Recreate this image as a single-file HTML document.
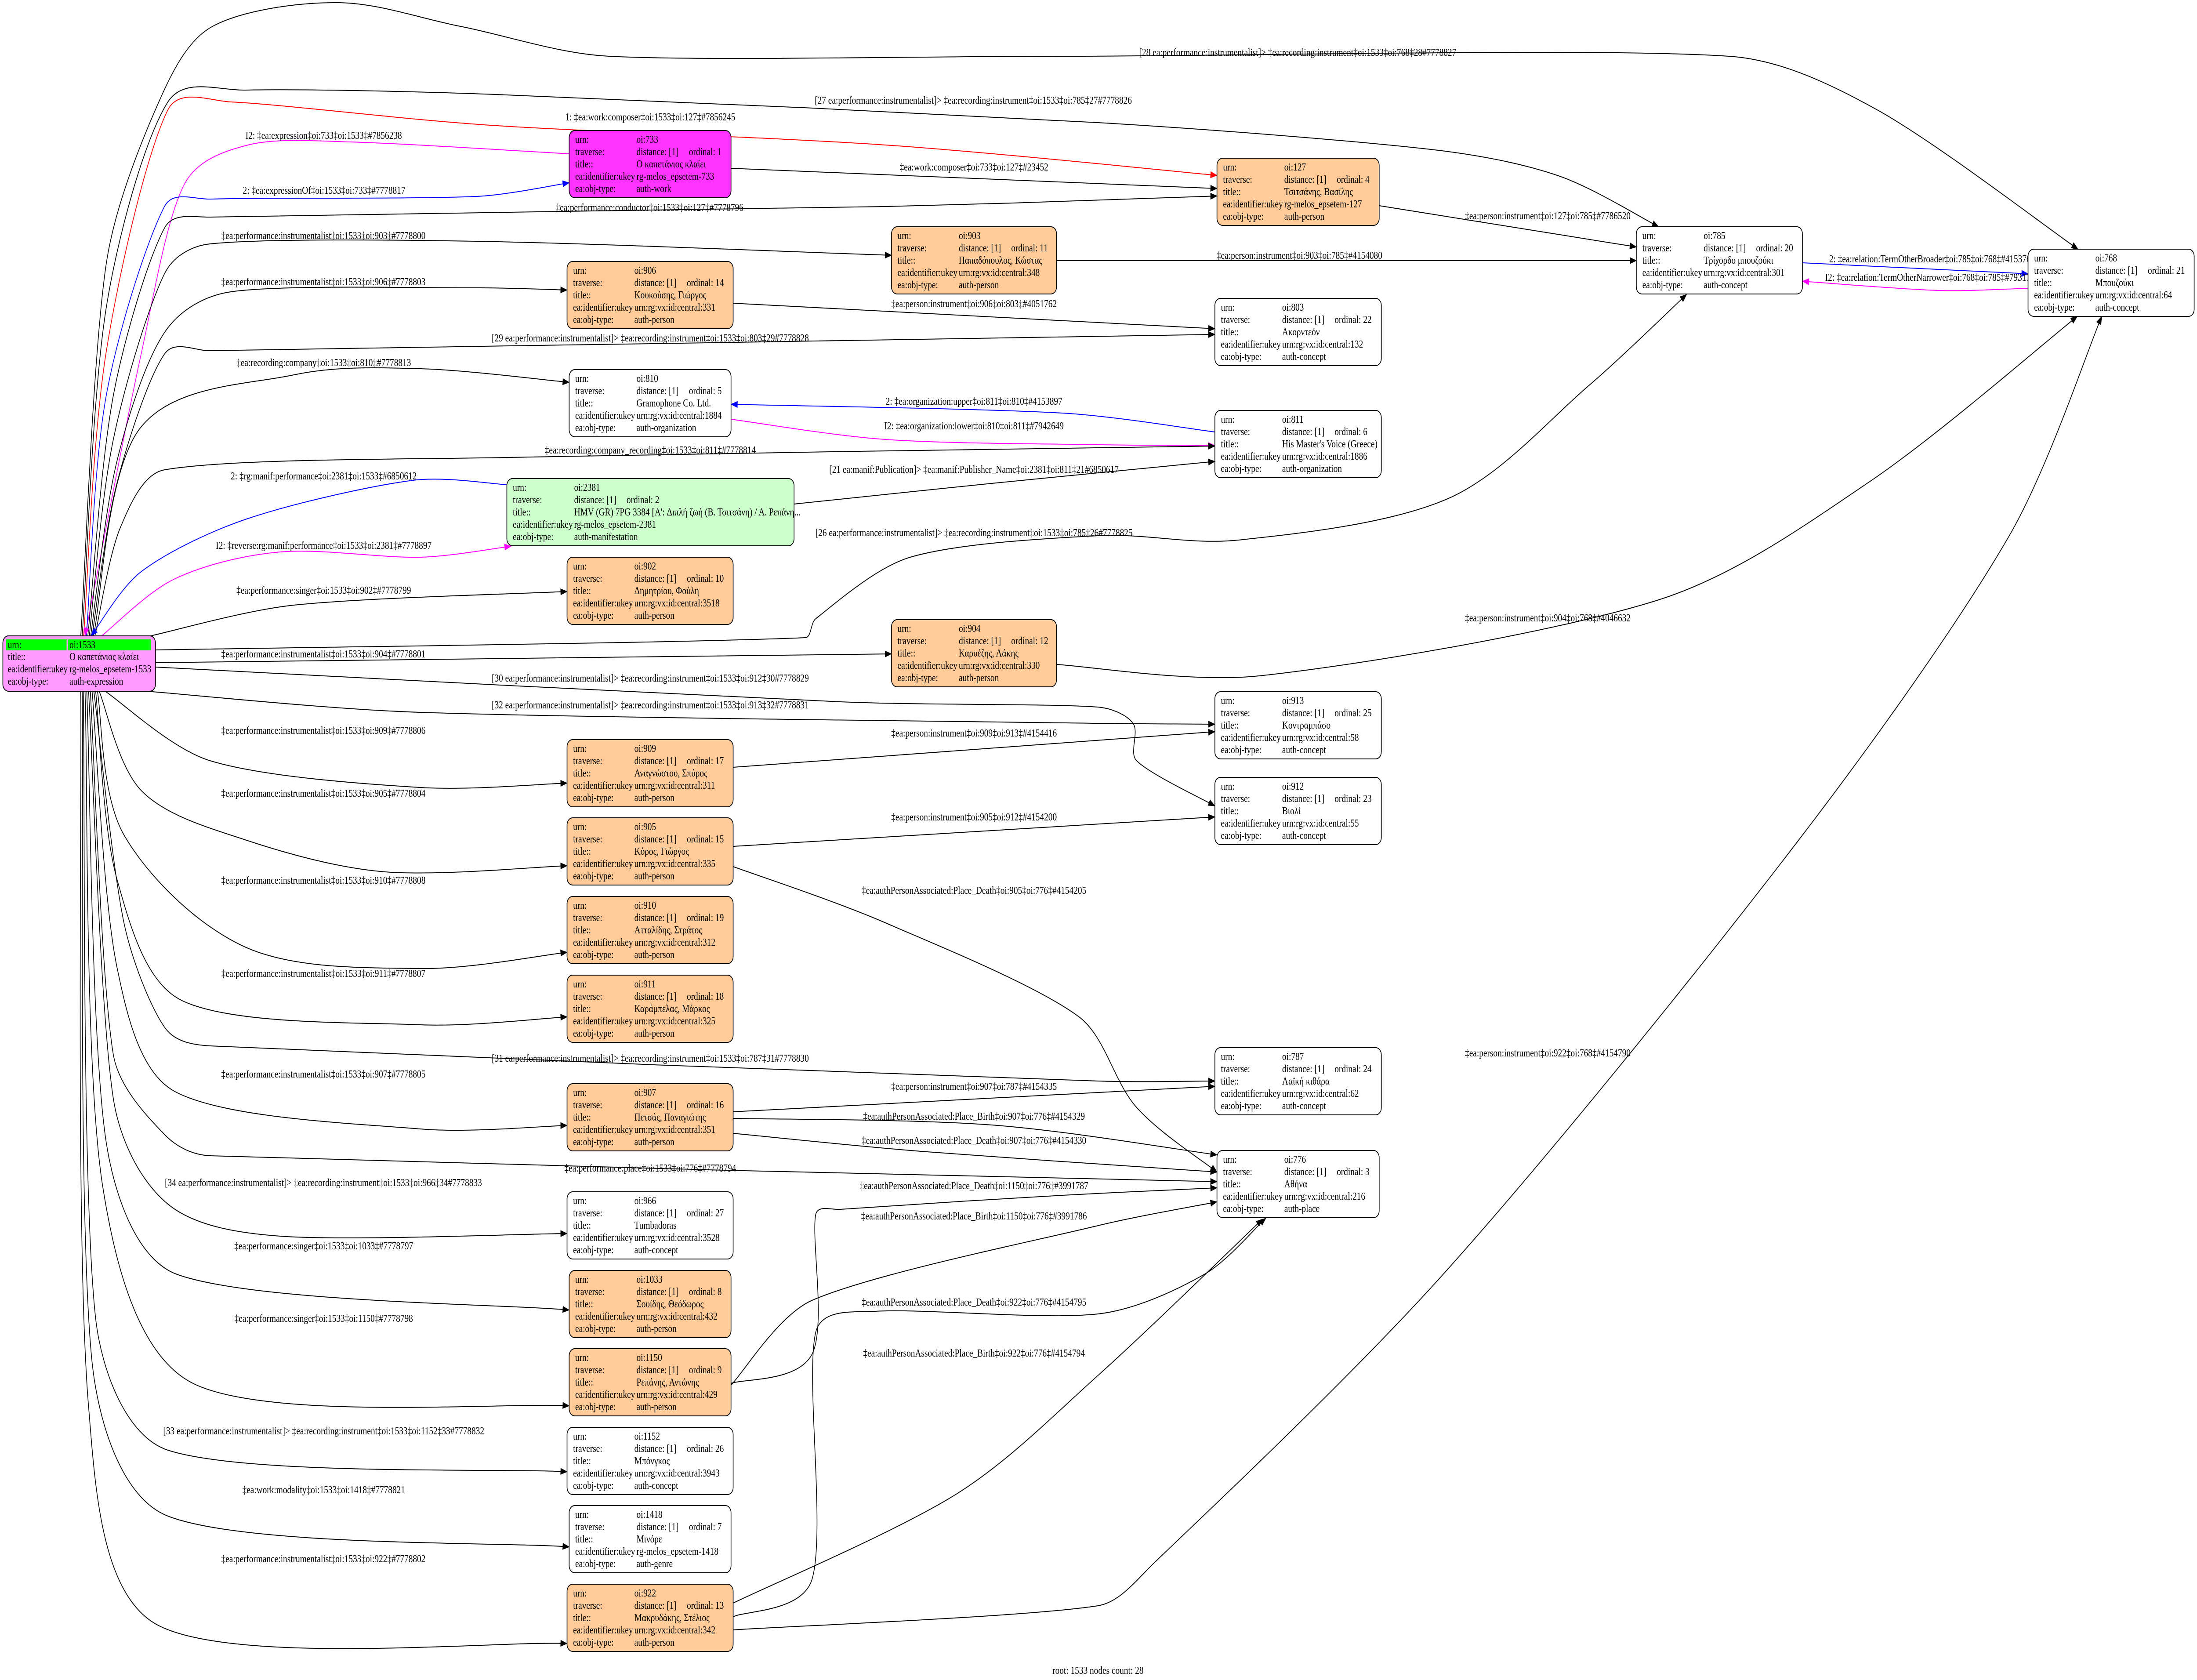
<!DOCTYPE html>
<html><head><meta charset="utf-8">
<style>
html,body{margin:0;padding:0;background:#fff;overflow:hidden;width:100%;height:100%;}
svg{display:block;width:100vw;height:100vh;}
text{font-family:"Liberation Serif","DejaVu Serif",serif;font-size:24px;fill:#000;}
.lb{text-anchor:middle;}
</style></head>
<body>
<svg id="s" xmlns="http://www.w3.org/2000/svg" viewBox="0 0 6203 3823" preserveAspectRatio="none">
<rect width="6203" height="3823" fill="#fff"/>
<g id="edges" fill="none" stroke-width="2"></g>
<g id="arrows"></g>
<g id="nodes"></g>
<g id="labels">
<text class="lb" x="3664" y="127">[28 ea:performance:instrumentalist]&gt; ‡ea:recording:instrument‡oi:1533‡oi:768‡28#7778827</text>
<text class="lb" x="2748" y="236">[27 ea:performance:instrumentalist]&gt; ‡ea:recording:instrument‡oi:1533‡oi:785‡27#7778826</text>
<text class="lb" x="1836" y="274">1: ‡ea:work:composer‡oi:1533‡oi:127‡#7856245</text>
<text class="lb" x="914" y="316">I2: ‡ea:expression‡oi:733‡oi:1533‡#7856238</text>
<text class="lb" x="915" y="441">2: ‡ea:expressionOf‡oi:1533‡oi:733‡#7778817</text>
<text class="lb" x="2750" y="388">‡ea:work:composer‡oi:733‡oi:127‡#23452</text>
<text class="lb" x="1834" y="480">‡ea:performance:conductor‡oi:1533‡oi:127‡#7778796</text>
<text class="lb" x="913" y="544">‡ea:performance:instrumentalist‡oi:1533‡oi:903‡#7778800</text>
<text class="lb" x="3669" y="589">‡ea:person:instrument‡oi:903‡oi:785‡#4154080</text>
<text class="lb" x="913" y="649">‡ea:performance:instrumentalist‡oi:1533‡oi:906‡#7778803</text>
<text class="lb" x="2750" y="699">‡ea:person:instrument‡oi:906‡oi:803‡#4051762</text>
<text class="lb" x="1836" y="777">[29 ea:performance:instrumentalist]&gt; ‡ea:recording:instrument‡oi:1533‡oi:803‡29#7778828</text>
<text class="lb" x="914" y="833">‡ea:recording:company‡oi:1533‡oi:810‡#7778813</text>
<text class="lb" x="2750" y="921">2: ‡ea:organization:upper‡oi:811‡oi:810‡#4153897</text>
<text class="lb" x="2750" y="977">I2: ‡ea:organization:lower‡oi:810‡oi:811‡#7942649</text>
<text class="lb" x="1836" y="1032">‡ea:recording:company_recording‡oi:1533‡oi:811‡#7778814</text>
<text class="lb" x="2750" y="1076">[21 ea:manif:Publication]&gt; ‡ea:manif:Publisher_Name‡oi:2381‡oi:811‡21#6850617</text>
<text class="lb" x="914" y="1091">2: ‡rg:manif:performance‡oi:2381‡oi:1533‡#6850612</text>
<text class="lb" x="914" y="1249">I2: ‡reverse:rg:manif:performance‡oi:1533‡oi:2381‡#7778897</text>
<text class="lb" x="914" y="1351">‡ea:performance:singer‡oi:1533‡oi:902‡#7778799</text>
<text class="lb" x="2750" y="1220">[26 ea:performance:instrumentalist]&gt; ‡ea:recording:instrument‡oi:1533‡oi:785‡26#7778825</text>
<text class="lb" x="913" y="1496">‡ea:performance:instrumentalist‡oi:1533‡oi:904‡#7778801</text>
<text class="lb" x="4370" y="1414">‡ea:person:instrument‡oi:904‡oi:768‡#4046632</text>
<text class="lb" x="1836" y="1551">[30 ea:performance:instrumentalist]&gt; ‡ea:recording:instrument‡oi:1533‡oi:912‡30#7778829</text>
<text class="lb" x="1836" y="1612">[32 ea:performance:instrumentalist]&gt; ‡ea:recording:instrument‡oi:1533‡oi:913‡32#7778831</text>
<text class="lb" x="2750" y="1676">‡ea:person:instrument‡oi:909‡oi:913‡#4154416</text>
<text class="lb" x="913" y="1670">‡ea:performance:instrumentalist‡oi:1533‡oi:909‡#7778806</text>
<text class="lb" x="2750" y="1867">‡ea:person:instrument‡oi:905‡oi:912‡#4154200</text>
<text class="lb" x="913" y="1813">‡ea:performance:instrumentalist‡oi:1533‡oi:905‡#7778804</text>
<text class="lb" x="2750" y="2034">‡ea:authPersonAssociated:Place_Death‡oi:905‡oi:776‡#4154205</text>
<text class="lb" x="913" y="2011">‡ea:performance:instrumentalist‡oi:1533‡oi:910‡#7778808</text>
<text class="lb" x="913" y="2223">‡ea:performance:instrumentalist‡oi:1533‡oi:911‡#7778807</text>
<text class="lb" x="1836" y="2416">[31 ea:performance:instrumentalist]&gt; ‡ea:recording:instrument‡oi:1533‡oi:787‡31#7778830</text>
<text class="lb" x="913" y="2452">‡ea:performance:instrumentalist‡oi:1533‡oi:907‡#7778805</text>
<text class="lb" x="2750" y="2480">‡ea:person:instrument‡oi:907‡oi:787‡#4154335</text>
<text class="lb" x="2750" y="2548">‡ea:authPersonAssociated:Place_Birth‡oi:907‡oi:776‡#4154329</text>
<text class="lb" x="2750" y="2603">‡ea:authPersonAssociated:Place_Death‡oi:907‡oi:776‡#4154330</text>
<text class="lb" x="1836" y="2666">‡ea:performance:place‡oi:1533‡oi:776‡#7778794</text>
<text class="lb" x="913" y="2699">[34 ea:performance:instrumentalist]&gt; ‡ea:recording:instrument‡oi:1533‡oi:966‡34#7778833</text>
<text class="lb" x="2750" y="2706">‡ea:authPersonAssociated:Place_Death‡oi:1150‡oi:776‡#3991787</text>
<text class="lb" x="2750" y="2775">‡ea:authPersonAssociated:Place_Birth‡oi:1150‡oi:776‡#3991786</text>
<text class="lb" x="914" y="2843">‡ea:performance:singer‡oi:1533‡oi:1033‡#7778797</text>
<text class="lb" x="914" y="3008">‡ea:performance:singer‡oi:1533‡oi:1150‡#7778798</text>
<text class="lb" x="2750" y="2971">‡ea:authPersonAssociated:Place_Death‡oi:922‡oi:776‡#4154795</text>
<text class="lb" x="2750" y="3087">‡ea:authPersonAssociated:Place_Birth‡oi:922‡oi:776‡#4154794</text>
<text class="lb" x="914" y="3264">[33 ea:performance:instrumentalist]&gt; ‡ea:recording:instrument‡oi:1533‡oi:1152‡33#7778832</text>
<text class="lb" x="914" y="3398">‡ea:work:modality‡oi:1533‡oi:1418‡#7778821</text>
<text class="lb" x="913" y="3555">‡ea:performance:instrumentalist‡oi:1533‡oi:922‡#7778802</text>
<text class="lb" x="4370" y="2404">‡ea:person:instrument‡oi:922‡oi:768‡#4154790</text>
<text class="lb" x="5455" y="597">2: ‡ea:relation:TermOtherBroader‡oi:785‡oi:768‡#4153762</text>
<text class="lb" x="5455" y="639">I2: ‡ea:relation:TermOtherNarrower‡oi:768‡oi:785‡#7931780</text>
<text class="lb" x="4370" y="499">‡ea:person:instrument‡oi:127‡oi:785‡#7786520</text>
<text class="lb" x="3100" y="3809">root: 1533 nodes count: 28</text>
</g>

<g id="nd" stroke="#000" stroke-width="2">
<rect x="8" y="1447" width="431" height="126" rx="16" fill="#ff99ff"/>
<rect x="17" y="1455" width="171" height="25" fill="#00ff00" stroke="none"/>
<rect x="192" y="1455" width="234" height="25" fill="#00ff00" stroke="none"/>
</g>
<g>
<text x="22" y="1475">urn:</text><text x="196" y="1475">oi:1533</text>
<text x="22" y="1502">title::</text><text x="196" y="1502">Ο καπετάνιος κλαίει</text>
<text x="22" y="1530">ea:identifier:ukey</text><text x="196" y="1530">rg-melos_epsetem-1533</text>
<text x="22" y="1558">ea:obj-type:</text><text x="196" y="1558">auth-expression</text>
</g>
<g id="nodes5"></g>
</svg>
<script>
(function(){
var NS="http://www.w3.org/2000/svg";
var nodes=[
[1607,297,457,"#ff33ff","oi:733","1","Ο καπετάνιος κλαίει","rg-melos_epsetem-733","auth-work"],
[3436,360,458,"#ffcc99","oi:127","4","Τσιτσάνης, Βασίλης","rg-melos_epsetem-127","auth-person"],
[2517,516,466,"#ffcc99","oi:903","11","Παπαδόπουλος, Κώστας","urn:rg:vx:id:central:348","auth-person"],
[4620,516,469,"#ffffff","oi:785","20","Τρίχορδο μπουζούκι","urn:rg:vx:id:central:301","auth-concept"],
[5726,567,469,"#ffffff","oi:768","21","Μπουζούκι","urn:rg:vx:id:central:64","auth-concept"],
[1601,595,469,"#ffcc99","oi:906","14","Κουκούσης, Γιώργος","urn:rg:vx:id:central:331","auth-person"],
[3430,679,470,"#ffffff","oi:803","22","Ακορντεόν","urn:rg:vx:id:central:132","auth-concept"],
[1607,841,457,"#ffffff","oi:810","5","Gramophone Co. Ltd.","urn:rg:vx:id:central:1884","auth-organization"],
[3430,934,470,"#ffffff","oi:811","6","His Master's Voice (Greece)","urn:rg:vx:id:central:1886","auth-organization"],
[1431,1089,811,"#ccffcc","oi:2381","2","HMV (GR) 7PG 3384 [A': Διπλή ζωή (Β. Τσιτσάνη) / Α. Ρεπάνη...","rg-melos_epsetem-2381","auth-manifestation"],
[1601,1268,469,"#ffcc99","oi:902","10","Δημητρίου, Φούλη","urn:rg:vx:id:central:3518","auth-person"],
[2517,1410,466,"#ffcc99","oi:904","12","Καρυέζης, Λάκης","urn:rg:vx:id:central:330","auth-person"],
[3430,1574,470,"#ffffff","oi:913","25","Κοντραμπάσο","urn:rg:vx:id:central:58","auth-concept"],
[1601,1683,469,"#ffcc99","oi:909","17","Αναγνώστου, Σπύρος","urn:rg:vx:id:central:311","auth-person"],
[3430,1769,470,"#ffffff","oi:912","23","Βιολί","urn:rg:vx:id:central:55","auth-concept"],
[1601,1861,469,"#ffcc99","oi:905","15","Κόρος, Γιώργος","urn:rg:vx:id:central:335","auth-person"],
[1601,2040,469,"#ffcc99","oi:910","19","Ατταλίδης, Στράτος","urn:rg:vx:id:central:312","auth-person"],
[1601,2219,469,"#ffcc99","oi:911","18","Καράμπελας, Μάρκος","urn:rg:vx:id:central:325","auth-person"],
[3430,2384,470,"#ffffff","oi:787","24","Λαϊκή κιθάρα","urn:rg:vx:id:central:62","auth-concept"],
[1601,2466,469,"#ffcc99","oi:907","16","Πετσάς, Παναγιώτης","urn:rg:vx:id:central:351","auth-person"],
[3436,2618,458,"#ffffff","oi:776","3","Αθήνα","urn:rg:vx:id:central:216","auth-place"],
[1601,2712,469,"#ffffff","oi:966","27","Tumbadoras","urn:rg:vx:id:central:3528","auth-concept"],
[1607,2891,457,"#ffcc99","oi:1033","8","Σουίδης, Θεόδωρος","urn:rg:vx:id:central:432","auth-person"],
[1607,3069,457,"#ffcc99","oi:1150","9","Ρεπάνης, Αντώνης","urn:rg:vx:id:central:429","auth-person"],
[1601,3248,469,"#ffffff","oi:1152","26","Μπόνγκος","urn:rg:vx:id:central:3943","auth-concept"],
[1607,3426,457,"#ffffff","oi:1418","7","Μινόρε","rg-melos_epsetem-1418","auth-genre"],
[1601,3605,469,"#ffcc99","oi:922","13","Μακρυδάκης, Στέλιος","urn:rg:vx:id:central:342","auth-person"]
];
var g=document.getElementById("nodes5");
function el(n,a,t){var e=document.createElementNS(NS,n);for(var k in a)e.setAttribute(k,a[k]);if(t!==undefined)e.textContent=t;return e;}
nodes.forEach(function(n){
  var x=n[0],y=n[1],w=n[2];
  g.appendChild(el("rect",{x:x,y:y,width:w,height:153,rx:16,fill:n[3],stroke:"#000","stroke-width":2}));
  var lx=x+17,vx=x+190,b=y+28;
  var L=["urn:","traverse:","title::","ea:identifier:ukey","ea:obj-type:"];
  var V=[n[4],"distance: [1]",n[6],n[7],n[8]];
  for(var i=0;i<5;i++){
    g.appendChild(el("text",{x:lx,y:b+i*28},L[i]));
    g.appendChild(el("text",{x:vx,y:b+i*28},V[i]));
  }
  g.appendChild(el("text",{x:vx+148,y:b+28},"ordinal: "+n[5]));
});
var K="#000",R="#ff0000",B="#0000ff",M="#ff00ff";
var E=[
[K,[[228,1447],[300,600],[455,220],[600,60],[949,6],[1300,60],[1720,128],[3000,128],[4881,128],[5300,250],[5867,567]]],
[K,[[232,1447],[300,700],[474,232],[692,205],[1400,215],[3100,279],[4050,341],[4400,400],[4683,516]]],
[R,[[236,1447],[300,800],[474,250],[652,232],[1384,285],[2500,330],[3436,399]]],
[M,[[1607,350],[988,323],[700,330],[520,420],[400,800],[240,1447]]],
[B,[[244,1447],[300,900],[465,469],[593,453],[1344,447],[1607,416]]],
[K,[[2064,383],[3436,429]]],
[K,[[248,1447],[320,900],[465,518],[593,494],[2500,470],[3436,446]]],
[K,[[252,1447],[320,1000],[465,622],[593,555],[1344,549],[2517,581]]],
[K,[[2983,593],[4620,593]]],
[K,[[256,1447],[330,1050],[465,756],[652,664],[1344,655],[1601,660]]],
[K,[[2070,690],[3430,748]]],
[K,[[260,1447],[330,1100],[465,805],[593,798],[2000,780],[3430,761]]],
[K,[[264,1447],[395,975],[830,853],[1186,839],[1607,870]]],
[B,[[3430,983],[3000,940],[2064,920]]],
[M,[[2064,954],[2500,1000],[3100,1012],[3430,1014]]],
[K,[[268,1447],[340,1200],[465,1069],[1500,1040],[3430,1015]]],
[K,[[2242,1147],[2800,1100],[3430,1050]]],
[B,[[1431,1103],[1166,1093],[700,1180],[400,1300],[257,1447]]],
[M,[[287,1447],[494,1317],[791,1256],[1186,1268],[1443,1243]]],
[K,[[425,1447],[830,1377],[1601,1346]]],
[K,[[439,1479],[2274,1451],[2303,1408],[2570,1268],[3100,1219],[3496,1229],[4090,1134],[4485,878],[4762,670]]],
[K,[[439,1508],[2517,1488]]],
[K,[[2983,1512],[3555,1538],[4683,1365],[5277,1097],[5865,720]]],
[K,[[439,1518],[2372,1597],[3100,1609],[3199,1646],[3209,1731],[3430,1834]]],
[K,[[415,1573],[1186,1621],[3100,1646],[3430,1648]]],
[K,[[2070,1746],[3430,1665]]],
[K,[[297,1573],[593,1731],[1186,1792],[1601,1782]]],
[K,[[2070,1926],[3430,1859]]],
[K,[[280,1573],[400,1800],[692,1911],[1087,1984],[1601,1970]]],
[K,[[2070,1972],[2500,2100],[3045,2313],[3209,2520],[3436,2667]]],
[K,[[275,1573],[350,1900],[692,2155],[1186,2204],[1601,2167]]],
[K,[[270,1573],[330,2000],[514,2277],[1186,2332],[1601,2314]]],
[K,[[265,1573],[350,2100],[465,2338],[593,2380],[3100,2460],[3430,2460]]],
[K,[[260,1573],[330,2200],[494,2484],[1186,2569],[1601,2561]]],
[K,[[2070,2530],[3430,2472]]],
[K,[[2070,2545],[2800,2560],[3436,2628]]],
[K,[[2070,2579],[2600,2620],[3436,2667]]],
[K,[[255,1573],[320,2400],[465,2582],[593,2630],[3436,2689]]],
[K,[[2064,3148],[2293,3081],[2303,2764],[2372,2752],[3000,2720],[3436,2703]]],
[K,[[2064,3152],[2293,2959],[3100,2789],[3436,2735]]],
[K,[[2070,3679],[2293,3593],[2303,3032],[2471,2984],[3100,2990],[3400,2900],[3574,2772]]],
[K,[[2070,3648],[2700,3400],[3100,3130],[3565,2774]]],
[K,[[2070,3709],[3100,3654],[3258,3557],[4090,2886],[5079,1911],[5673,1219],[5934,720]]],
[K,[[250,1573],[320,2500],[474,2740],[791,2813],[1601,2807]]],
[K,[[245,1573],[300,2600],[500,2900],[1607,2981]]],
[K,[[240,1573],[290,2700],[550,3150],[1607,3199]]],
[K,[[235,1573],[270,3000],[474,3300],[1601,3349]]],
[K,[[232,1573],[260,3100],[474,3450],[1607,3520]]],
[K,[[228,1573],[250,3200],[450,3700],[1601,3740]]],
[K,[[3894,468],[4620,562]]],
[B,[[5089,598],[5726,623]]],
[M,[[5726,656],[5475,661],[5089,640]]]
];
function clampv(v,m){var l=Math.sqrt(v[0]*v[0]+v[1]*v[1]);if(l>m&&l>0){return [v[0]*m/l,v[1]*m/l];}return v;}
var eg=document.getElementById("edges"),ag=document.getElementById("arrows");
E.forEach(function(e){
  var c=e[0],p=e[1],n=p.length,d="M"+p[0][0]+","+p[0][1],lc2=p[0];
  for(var i=0;i<n-1;i++){
    var p0=p[i>0?i-1:0],p1=p[i],p2=p[i+1],p3=p[i+2<n?i+2:n-1];
    var sl=Math.sqrt((p2[0]-p1[0])*(p2[0]-p1[0])+(p2[1]-p1[1])*(p2[1]-p1[1]))/3;
    var t1=clampv([(p2[0]-p0[0])/6,(p2[1]-p0[1])/6],sl);
    var t2=clampv([(p3[0]-p1[0])/6,(p3[1]-p1[1])/6],sl);
    var c1=[p1[0]+t1[0],p1[1]+t1[1]];
    var c2=[p2[0]-t2[0],p2[1]-t2[1]];
    d+=" C"+c1[0].toFixed(1)+","+c1[1].toFixed(1)+" "+c2[0].toFixed(1)+","+c2[1].toFixed(1)+" "+p2[0]+","+p2[1];
    lc2=c2;
  }
  var t=p[n-1];
  eg.appendChild(el("path",{d:d,stroke:c}));
  var dx=t[0]-lc2[0],dy=t[1]-lc2[1],L=Math.sqrt(dx*dx+dy*dy);
  if(L<1){dx=t[0]-p[n-2][0];dy=t[1]-p[n-2][1];L=Math.sqrt(dx*dx+dy*dy);}
  dx/=L;dy/=L;
  var bx=t[0]-dx*18,by=t[1]-dy*18,px=-dy*7,py=dx*7;
  ag.appendChild(el("polygon",{points:t[0]+","+t[1]+" "+(bx+px)+","+(by+py)+" "+(bx-px)+","+(by-py),fill:c,stroke:c,"stroke-width":1}));
});
})();
</script>
</body></html>
